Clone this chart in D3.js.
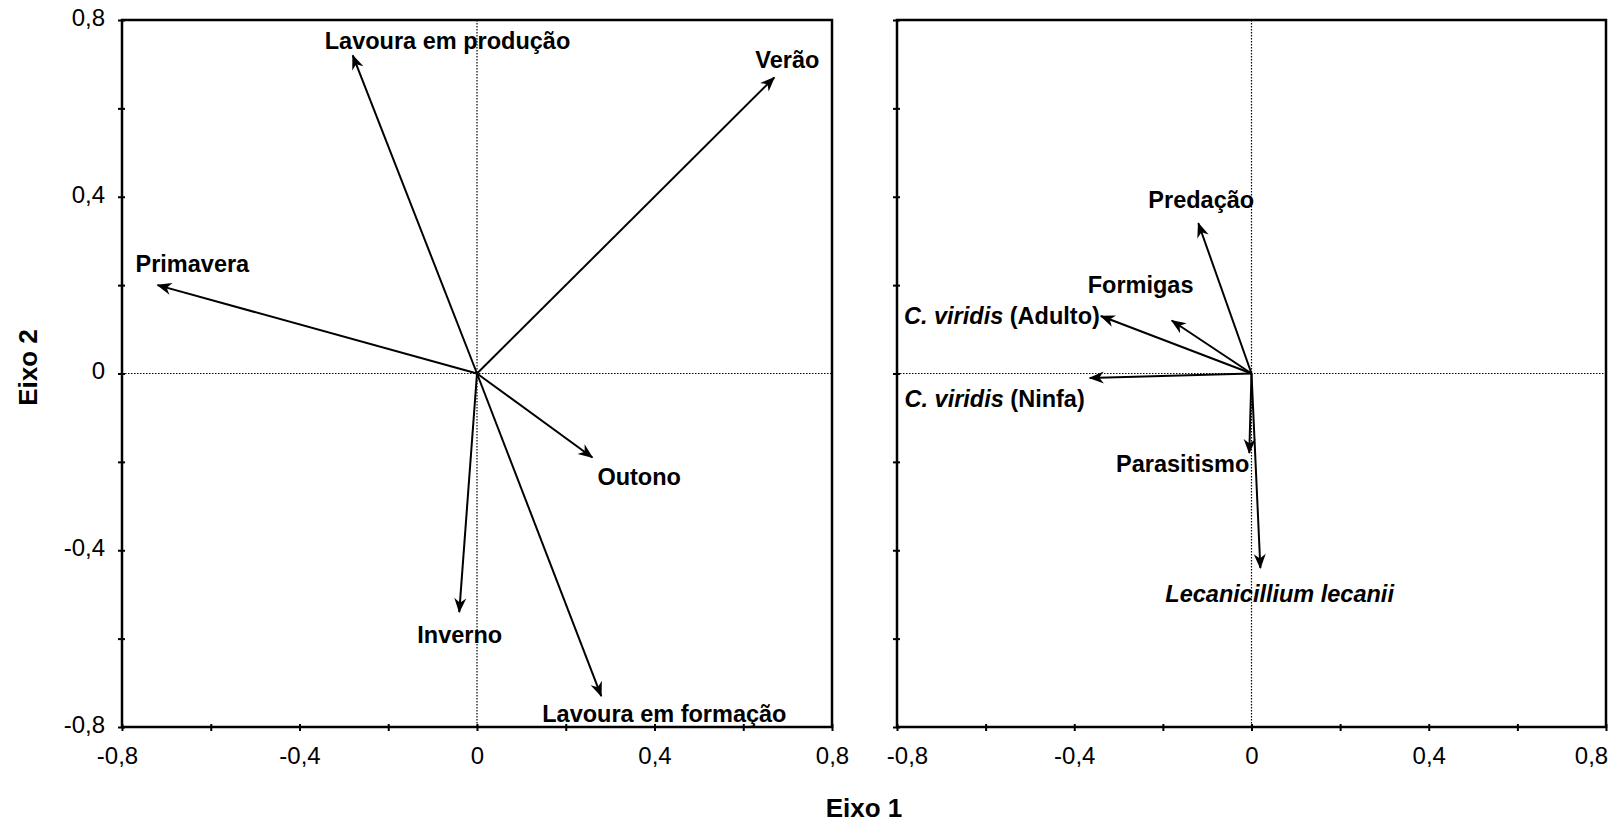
<!DOCTYPE html>
<html>
<head>
<meta charset="utf-8">
<script src="https://cdn.jsdelivr.net/npm/d3@7"></script>
<style>
  html, body { margin: 0; padding: 0; background: #fff; }
  svg { display: block; font-family: "Liberation Sans", Arial, sans-serif; }
</style>
</head>
<body>
<svg id="chart" width="1619" height="825"></svg>
<script>
// ---------------- DATA ----------------
const leftNames = ["Lavoura em produção", "Verão", "Primavera", "Outono", "Inverno", "Lavoura em formação"];
const leftAxis1 = [-0.28, 0.67, -0.72, 0.26, -0.04, 0.28];
const leftAxis2 = [0.72, 0.67, 0.20, -0.19, -0.54, -0.73];

const rightNames = ["Predação", "Formigas", "C. viridis (Adulto)", "C. viridis (Ninfa)", "Parasitismo", "Lecanicillium lecanii"];
const rightAxis1 = [-0.12, -0.18, -0.34, -0.365, -0.005, 0.02];
const rightAxis2 = [0.34, 0.12, 0.13, -0.01, -0.18, -0.44];
const italicParts = ["", "", "C. viridis", "C. viridis", "", "Lecanicillium lecanii"];

const majorTicks = [-0.8, -0.4, 0, 0.4, 0.8];
const minorTicks = [-0.6, -0.2, 0.2, 0.6];
const tickLabels = ["-0,8", "-0,4", "0", "0,4", "0,8"];
const axisTitleX = "Eixo 1";
const axisTitleY = "Eixo 2";

// ---------------- LAYOUT ----------------
// label placement relative to arrow tip (pixels): [dx, dy, anchor]
const leftLabelLayout = [[-28, -6, "start"], [-19, -9, "start"], [-22, -13, "start"], [5, 28, "start"], [-42, 31, "start"], [-59, 26, "start"]];
const rightLabelLayout = [[-50, -15, "start"], [-84, -27, "start"], [-1, 8, "end"], [-5, 29, "end"], [0, 19, "end"], [-95, 34, "start"]];
// horizontal nudges of the x tick labels at the panel edges
const leftTickNudge = [-5, 0, 0, 0, 0];
const rightTickNudge = [10, 0, 0, 0, -15];

const svg = d3.select("#chart");
const yTop = 20, yBottom = 727;
const y = d3.scaleLinear().domain([-0.8, 0.8]).range([yBottom, yTop]);
const xL = d3.scaleLinear().domain([-0.8, 0.8]).range([122, 832]);
const xR = d3.scaleLinear().domain([-0.8, 0.8]).range([897, 1606]);

// arrow marker
const defs = svg.append("defs");
defs.append("marker")
  .attr("id", "arr")
  .attr("markerUnits", "userSpaceOnUse")
  .attr("viewBox", "-16 -8 18 16")
  .attr("markerWidth", 18).attr("markerHeight", 16)
  .attr("refX", 0).attr("refY", 0)
  .attr("orient", "auto")
  .append("path")
  .attr("d", "M1,0 L-14,-6 L-9.5,0 L-14,6 Z")
  .attr("fill", "#000");

function panel(x, names, a1, a2, layout, showYLabels, nudge) {
  const g = svg.append("g");
  const [x0, x1] = x.range();

  // dotted zero lines
  g.append("line")
    .attr("x1", x0).attr("x2", x1).attr("y1", y(0)).attr("y2", y(0))
    .attr("stroke", "#000").attr("stroke-width", 1.2).attr("stroke-dasharray", "1.5,1.5");
  g.append("line")
    .attr("x1", x(0)).attr("x2", x(0)).attr("y1", yTop).attr("y2", yBottom)
    .attr("stroke", "#000").attr("stroke-width", 1.2).attr("stroke-dasharray", "1.5,1.5");

  // frame
  g.append("rect")
    .attr("x", x0).attr("y", yTop).attr("width", x1 - x0).attr("height", yBottom - yTop)
    .attr("fill", "none").attr("stroke", "#000").attr("stroke-width", 2.5);

  // bottom axis
  const allTicks = majorTicks.concat(minorTicks);
  const xa = g.append("g").attr("transform", `translate(0,${yBottom})`)
    .call(d3.axisBottom(x).tickValues(allTicks).tickSize(4)
      .tickFormat(d => { const i = majorTicks.indexOf(d); return i >= 0 ? tickLabels[i] : ""; }));
  xa.select(".domain").remove();
  xa.selectAll(".tick line").attr("y1", -3).attr("y2", 4).attr("stroke-width", 2);
  xa.selectAll(".tick text").attr("y", 20).attr("dy", "0.71em")
    .attr("x", d => { const i = majorTicks.indexOf(d); return i >= 0 ? nudge[i] : 0; })
    .attr("font-size", 24).attr("font-family", "Liberation Sans, Arial, sans-serif").attr("fill", "#000");

  // left axis
  const ya = g.append("g").attr("transform", `translate(${x0},0)`)
    .call(d3.axisLeft(y).tickValues(allTicks).tickSize(4)
      .tickFormat(d => { const i = majorTicks.indexOf(d); return (showYLabels && i >= 0) ? tickLabels[i] : ""; }));
  ya.select(".domain").remove();
  ya.selectAll(".tick line").attr("x1", -4).attr("x2", 3).attr("stroke-width", 2);
  ya.selectAll(".tick text").attr("x", -17).attr("dy", "0.22em")
    .attr("font-size", 24).attr("font-family", "Liberation Sans, Arial, sans-serif").attr("fill", "#000");

  // vectors
  const data = names.map((n, i) => ({ n, a: a1[i], b: a2[i], lay: layout[i] }));
  g.selectAll("line.vec").data(data).enter().append("line")
    .attr("class", "vec")
    .attr("x1", x(0)).attr("y1", y(0))
    .attr("x2", d => x(d.a)).attr("y2", d => y(d.b))
    .attr("stroke", "#000").attr("stroke-width", 2)
    .attr("marker-end", "url(#arr)");
  return { g, data };
}

function addLabels(p, x, italics) {
  p.data.forEach((d, i) => {
    const t = p.g.append("text")
      .attr("x", x(d.a) + d.lay[0]).attr("y", y(d.b) + d.lay[1])
      .attr("text-anchor", d.lay[2])
      .attr("font-size", 23.5).attr("font-weight", "bold").attr("fill", "#000");
    const it = italics ? italics[i] : "";
    if (it && d.n.startsWith(it)) {
      t.append("tspan").attr("font-style", "italic").text(it);
      const rest = d.n.slice(it.length);
      if (rest) t.append("tspan").text(rest);
    } else {
      t.text(d.n);
    }
  });
}

const pL = panel(xL, leftNames, leftAxis1, leftAxis2, leftLabelLayout, true, leftTickNudge);
addLabels(pL, xL, null);
const pR = panel(xR, rightNames, rightAxis1, rightAxis2, rightLabelLayout, false, rightTickNudge);
addLabels(pR, xR, italicParts);

// axis titles
svg.append("text")
  .attr("x", (xL.range()[0] + xR.range()[1]) / 2).attr("y", 817)
  .attr("text-anchor", "middle").attr("font-size", 26).attr("font-weight", "bold")
  .text(axisTitleX);
svg.append("text")
  .attr("transform", `translate(37,${y(0) - 6}) rotate(-90)`)
  .attr("text-anchor", "middle").attr("font-size", 26).attr("font-weight", "bold")
  .text(axisTitleY);
</script>
</body>
</html>
